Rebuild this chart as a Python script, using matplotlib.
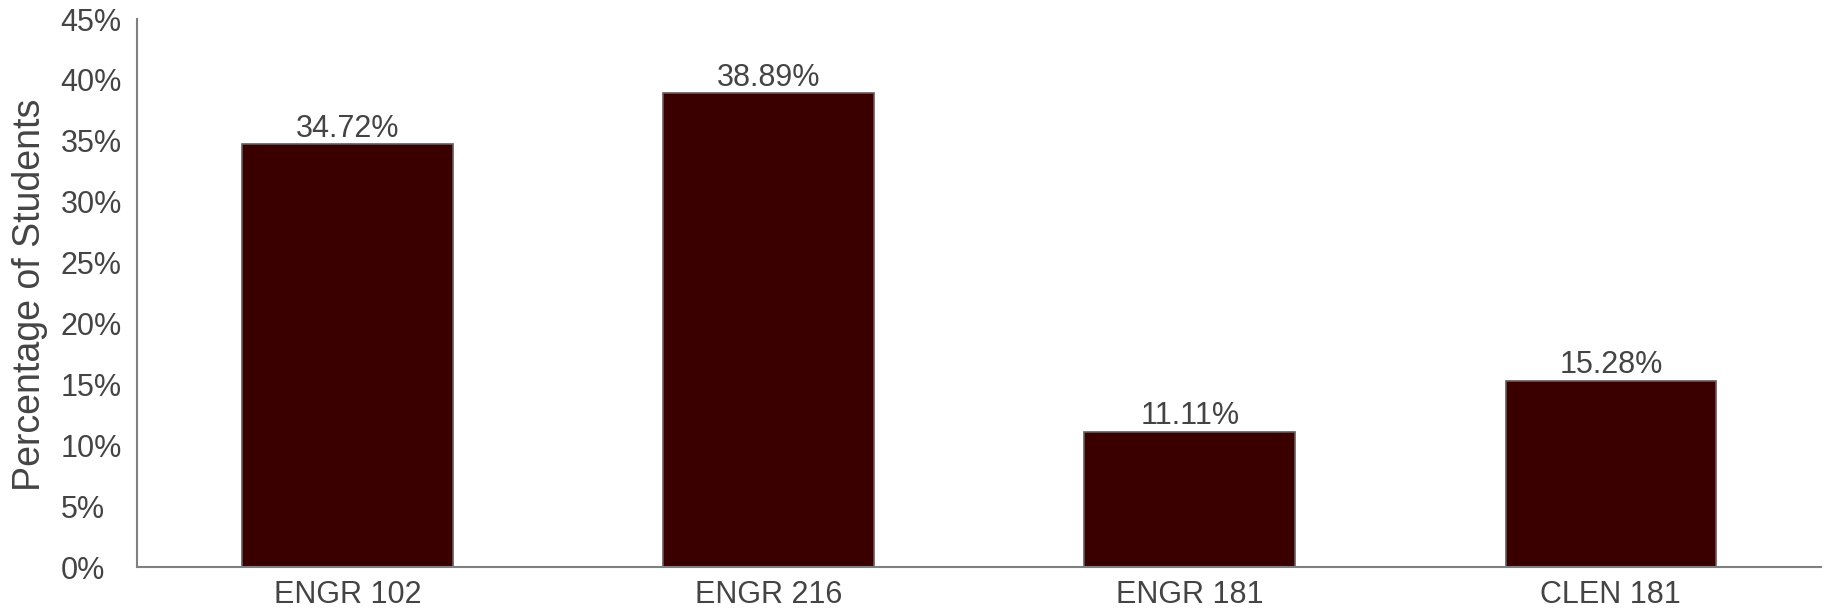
import matplotlib
matplotlib.use("Agg")
import matplotlib.pyplot as plt
from matplotlib.ticker import MultipleLocator, FuncFormatter

courses = ["ENGR 102", "ENGR 216", "ENGR 181", "CLEN 181"]
percentages = [34.72, 38.89, 11.11, 15.28]

plt.rcParams["font.family"] = ["Liberation Sans", "DejaVu Sans"]
text_color = "#444444"
axis_color = "#808080"

fig = plt.figure(figsize=(18.25, 6.14), dpi=100)
ax = fig.add_axes([0.0751, 0.0765, 0.9229, 0.8925])

x = range(len(courses))
bars = ax.bar(x, percentages, width=0.5, color="#3a0000",
              edgecolor="#6a5a5a", linewidth=1.2)

for xi, v in zip(x, percentages):
    ax.text(xi, v + 0.05, f"{v:.2f}%", ha="center", va="bottom",
            fontsize=22, color=text_color)

ax.set_xlim(-0.5, len(courses) - 0.5)
ax.set_ylim(0, 45)
ax.yaxis.set_major_locator(MultipleLocator(5))
ax.yaxis.set_major_formatter(FuncFormatter(lambda v, _: f"{v:.0f}%"))
ax.set_xticks(list(x))
ax.set_xticklabels(courses)

ax.tick_params(axis="both", length=0, labelsize=22, labelcolor=text_color)
ax.tick_params(axis="y", pad=55)
ax.tick_params(axis="x", pad=9)
for lbl in ax.get_yticklabels():
    lbl.set_horizontalalignment("left")

ax.set_ylabel("Percentage of Students", fontsize=27, color=text_color)
ax.yaxis.set_label_coords(-0.053, 0.497)

for side in ("top", "right"):
    ax.spines[side].set_visible(False)
for side in ("left", "bottom"):
    ax.spines[side].set_color(axis_color)
    ax.spines[side].set_linewidth(1.5)

fig.savefig("out.png", dpi=100, facecolor="white")
